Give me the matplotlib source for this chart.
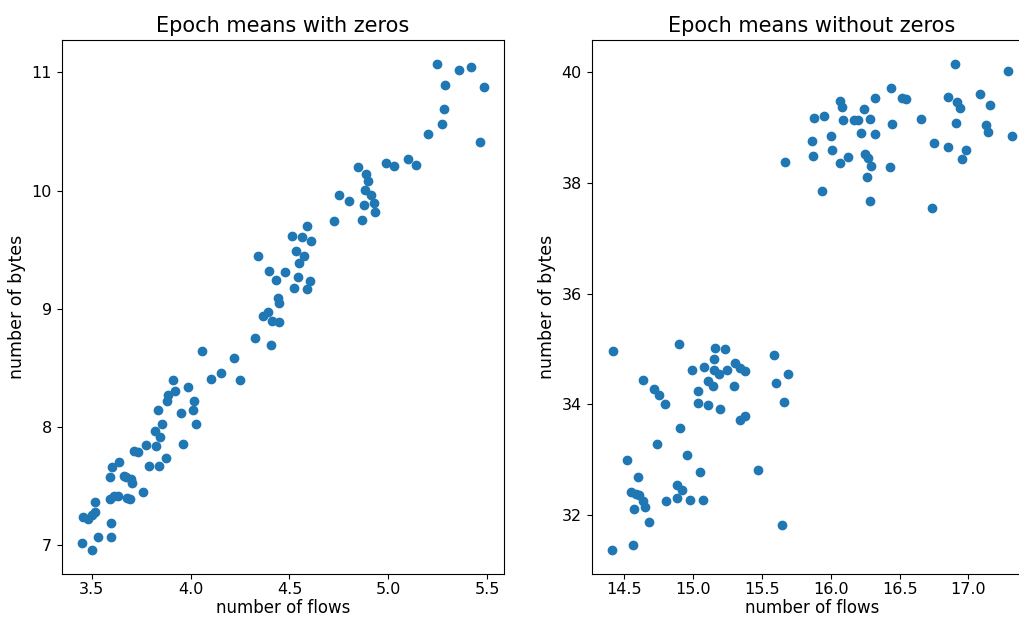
import matplotlib
matplotlib.use('Agg')
import matplotlib.pyplot as plt

# epoch means including zero-valued epochs
flows_zeros = [3.449, 3.500, 3.531, 3.598, 3.597, 3.457, 3.478, 3.500, 3.517, 3.517,
               3.590, 3.610, 3.630, 3.678, 3.695, 3.757, 3.590, 3.602, 3.635, 3.661,
               3.674, 3.698, 3.705, 3.715, 3.732, 3.776, 3.788, 3.822, 3.818, 3.844,
               3.839, 3.873, 3.856, 3.834, 3.881, 3.885, 3.919, 3.912, 3.949, 3.961,
               3.986, 4.017, 4.012, 4.025, 4.056, 4.105, 4.156, 4.220, 4.251, 4.326,
               4.408, 4.365, 4.390, 4.410, 4.449, 4.449,
               5.246, 5.357, 5.418, 5.285, 5.484, 5.282, 5.273, 5.200, 5.466, 4.990,
               5.031, 5.102, 5.141, 4.848, 4.887, 4.899, 4.880, 4.914, 4.927, 4.875,
               4.932, 4.865, 4.749, 4.799, 4.726, 4.589, 4.514, 4.565, 4.610, 4.531,
               4.576, 4.548, 4.342, 4.398, 4.475, 4.432, 4.543, 4.605, 4.525, 4.589,
               4.444]
bytes_zeros = [7.021, 6.964, 7.072, 7.072, 7.191, 7.242, 7.222, 7.261, 7.284, 7.369,
               7.397, 7.420, 7.420, 7.403, 7.397, 7.454, 7.582, 7.664, 7.709, 7.590,
               7.582, 7.562, 7.525, 7.800, 7.788, 7.851, 7.675, 7.842, 7.969, 7.913,
               7.675, 7.737, 8.025, 8.148, 8.224, 8.275, 8.309, 8.402, 8.119, 7.859,
               8.337, 8.218, 8.142, 8.025, 8.643, 8.411, 8.458, 8.586, 8.402, 8.756,
               8.691, 8.940, 8.976, 8.897, 8.891, 9.053,
               11.068, 11.020, 11.048, 10.892, 10.873, 10.688, 10.567, 10.482, 10.411, 10.236,
               10.205, 10.264, 10.213, 10.199, 10.143, 10.077, 10.001, 9.964, 9.893, 9.882,
               9.817, 9.752, 9.964, 9.910, 9.744, 9.698, 9.616, 9.604, 9.576, 9.486,
               9.447, 9.390, 9.449, 9.322, 9.313, 9.245, 9.273, 9.237, 9.180, 9.171,
               9.095]

# epoch means with the zeros dropped
flows_nozeros = [16.903, 17.291, 16.435, 16.070, 16.079, 16.319, 16.518, 16.547, 16.855, 16.918,
                 16.942, 17.082, 17.155, 15.881, 15.953, 16.087, 16.172, 16.196, 16.244, 16.286,
                 16.443, 16.656, 16.911, 17.131, 17.140, 17.315, 15.864, 15.999, 16.220, 16.324,
                 16.751, 16.855, 16.980, 16.956, 15.871, 16.007, 16.128, 16.070, 16.251, 16.271,
                 16.295, 16.428, 16.261, 15.665, 15.934, 16.286, 16.736,
                 14.415, 14.900, 15.159, 15.232, 15.590, 15.690, 15.154, 15.081, 14.989, 15.154,
                 15.190, 15.243, 15.305, 15.343, 15.377, 15.105, 15.147, 15.294, 15.605, 14.633,
                 14.718, 14.749, 14.798, 15.038, 15.038, 15.110, 15.195, 15.661, 15.341, 15.377,
                 14.902, 14.738, 14.520, 14.602, 14.956, 15.050, 15.472, 14.549, 14.585, 14.604,
                 14.638, 14.650, 14.568, 14.677, 14.883, 14.916, 14.880, 14.803, 14.980, 15.074,
                 15.646, 14.408, 14.560]
bytes_nozeros = [40.145, 40.024, 39.710, 39.486, 39.366, 39.529, 39.529, 39.511, 39.553, 39.467,
                 39.348, 39.612, 39.413, 39.178, 39.214, 39.136, 39.136, 39.136, 39.330, 39.154,
                 39.058, 39.154, 39.076, 39.045, 38.924, 38.851, 38.761, 38.851, 38.900, 38.877,
                 38.719, 38.652, 38.598, 38.429, 38.484, 38.598, 38.466, 38.362, 38.525, 38.460,
                 38.308, 38.290, 38.109, 38.384, 37.850, 37.674, 37.554,
                 34.969, 35.091, 35.029, 35.011, 34.891, 34.558, 34.819, 34.679, 34.625, 34.625,
                 34.547, 34.620, 34.746, 34.667, 34.601, 34.426, 34.335, 34.335, 34.395, 34.438,
                 34.286, 34.167, 34.004, 34.245, 34.022, 33.986, 33.924, 34.045, 33.725, 33.786,
                 33.574, 33.290, 33.000, 32.687, 33.080, 32.783, 32.819, 32.420, 32.384, 32.361,
                 32.252, 32.149, 32.112, 31.877, 32.547, 32.457, 32.306, 32.252, 32.270, 32.283,
                 31.817, 31.377, 31.460]

fig = plt.figure(figsize=(10.2, 6.17), dpi=100)
# the right panel runs past the edge of the figure, as in the original screenshot
ax1 = fig.add_axes([0.0605, 0.0697, 0.4336, 0.8655])
ax2 = fig.add_axes([0.5801, 0.0697, 0.4314, 0.8655])

panels = [(ax1, flows_zeros, bytes_zeros, "Epoch means with zeros"),
          (ax2, flows_nozeros, bytes_nozeros, "Epoch means without zeros")]

for ax, xs, ys, title in panels:
    ax.scatter(xs, ys, s=36, color='#1f77b4')
    ax.set_title(title, fontsize=15)
    ax.set_xlabel("number of flows", fontsize=12, labelpad=1)
    ax.set_ylabel("number of bytes", fontsize=12.5)
    ax.tick_params(labelsize=11.5)
    ax.tick_params(axis='x', pad=2.5)

ax1.set_xticks([3.5, 4.0, 4.5, 5.0, 5.5])
ax1.set_yticks([7, 8, 9, 10, 11])
ax2.set_xticks([14.5, 15.0, 15.5, 16.0, 16.5, 17.0])
ax2.set_yticks([32, 34, 36, 38, 40])

fig.savefig("out.png", dpi=100)
plt.close(fig)
